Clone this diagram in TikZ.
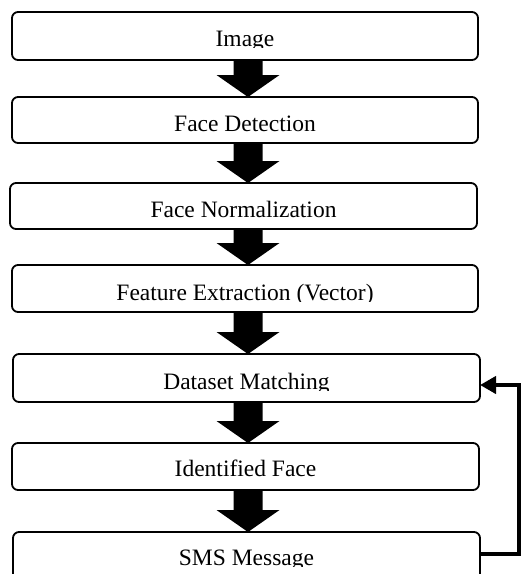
\documentclass[tikz,border=0pt]{standalone}
\usepackage{fontspec}
\setmainfont{Liberation Serif}
\usetikzlibrary{calc,arrows.meta}
\tikzset{
  stagebox/.style={draw=black, line width=1.8pt, rounded corners=6pt, fill=white,
    minimum height=#1, inner sep=0pt, outer sep=0pt},
  stagetext/.style={font=\fontsize{23.5}{27}\selectfont, inner sep=0pt, anchor=base},
  fb/.style={draw=black, line width=4pt, -{Triangle[width=17pt,length=16pt]}}
}
\newcommand\stagelabel[4]{% box, name, baseline offset, text
  \begin{scope}
    \clip ([xshift=2pt,yshift=#3-1.5pt]#1.south west) rectangle ([xshift=-2pt,yshift=-2pt]#1.north east);
    \node[stagetext] (#2) at ([yshift=#3]#1.south) {#4};
  \end{scope}}
\newcommand\flowarrow[2]{%
  \fill[black] let \p1=(#1.south), \p2=(#2.north) in
    (233.5pt,\y1) -- (233.5pt,{\y2+22pt}) -- (216.5pt,{\y2+22pt}) -- (248pt,\y2)
    -- (279.5pt,{\y2+22pt}) -- (262.5pt,{\y2+22pt}) -- (262.5pt,\y1) -- cycle;}
\begin{document}
\begin{tikzpicture}[x=1pt,y=-1pt]
\useasboundingbox (0,0) rectangle (524,574);
\node[stagebox=48pt, minimum width=466pt] (b1) at (245,36) {};
\node[stagebox=46pt, minimum width=466pt] (b2) at (245,120) {};
\node[stagebox=46pt, minimum width=467pt] (b3) at (243.5,206) {};
\node[stagebox=47pt, minimum width=466pt] (b4) at (245,288.5) {};
\node[stagebox=48pt, minimum width=467pt] (b5) at (246.5,378) {};
\node[stagebox=47pt, minimum width=467pt] (b6) at (245.5,466.5) {};
\node[stagebox=48pt, minimum width=467pt] (b7) at (246.5,556) {};
\stagelabel{b1}{t1}{14pt}{Image}
\stagelabel{b2}{t2}{11.5pt}{Face Detection}
\stagelabel{b3}{t3}{11.5pt}{Face Normalization}
\stagelabel{b4}{t4}{12pt}{Feature Extraction (Vector)}
\stagelabel{b5}{t5}{13pt}{Dataset Matching}
\stagelabel{b6}{t6}{14pt}{Identified Face}
\stagelabel{b7}{t7}{15pt}{SMS Message}
\flowarrow{b1}{b2}
\flowarrow{b2}{b3}
\flowarrow{b3}{b4}
\flowarrow{b4}{b5}
\flowarrow{b5}{b6}
\flowarrow{b6}{b7}
\draw[fb] ([yshift=2.5pt]b7.east) -- ++(39,0) |- ([yshift=-7pt]b5.east);
\end{tikzpicture}
\end{document}
